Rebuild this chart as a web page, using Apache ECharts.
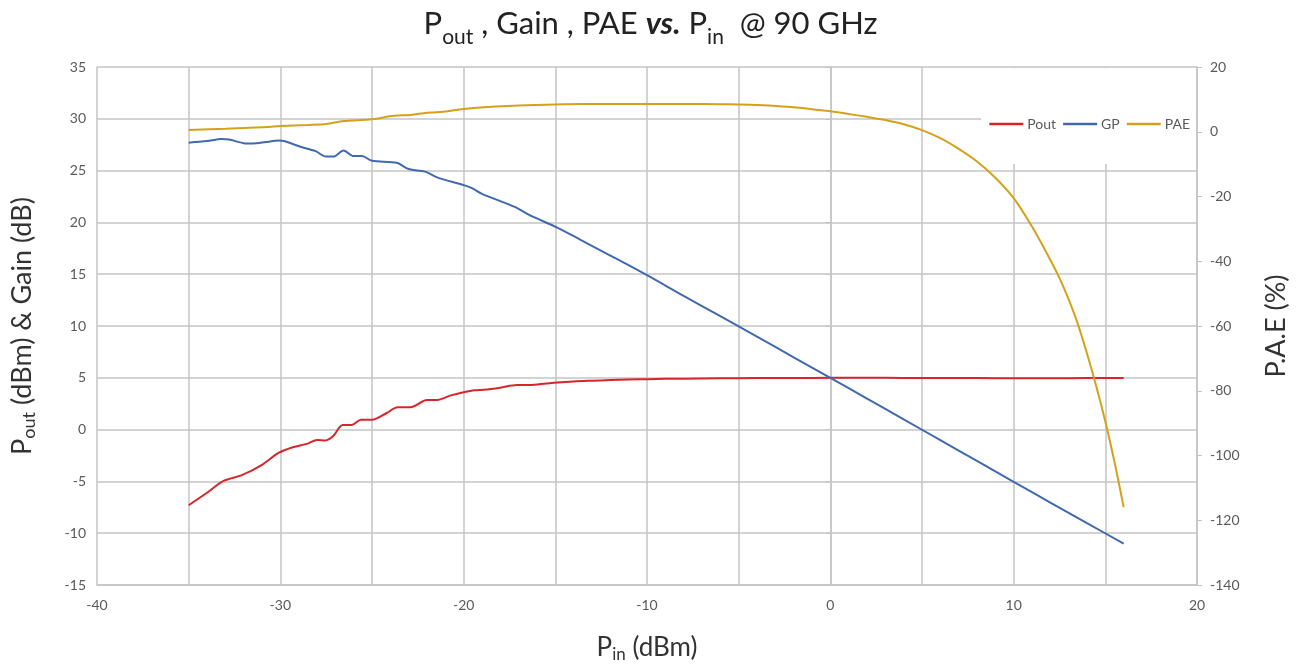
<!DOCTYPE html>
<html>
<head>
<meta charset="utf-8">
<script src="https://cdn.jsdelivr.net/npm/echarts@6/dist/echarts.min.js"></script>
<style>html,body{margin:0;padding:0;background:#fff;}#c{width:1301px;height:664px;}</style>
</head>
<body>
<div id="c"></div>
<script>
// Series data: [Pin (dBm), value]
var poutData = [[-35,-7.3],[-34,-6.1],[-33.1,-4.95],[-32.1,-4.4],[-31,-3.4],[-30.1,-2.25],[-29.4,-1.75],[-28.5,-1.35],[-28,-1.0],[-27.55,-1.05],[-27.1,-0.6],[-26.6,0.45],[-26.1,0.45],[-25.6,0.95],[-25,0.95],[-24.2,1.6],[-23.6,2.15],[-22.9,2.15],[-22,2.85],[-21.5,2.85],[-20.7,3.3],[-20,3.6],[-19.4,3.8],[-18.9,3.85],[-18,4.05],[-17.1,4.3],[-16.4,4.3],[-15.5,4.45],[-14.9,4.55],[-14,4.65],[-13,4.72],[-12,4.78],[-11,4.83],[-10,4.87],[-8,4.92],[-6,4.95],[-4,4.97],[-2,4.98],[0,5.0],[2,5.0],[4,4.99],[6,4.98],[8,4.97],[10,4.96],[12,4.96],[14,4.97],[16,4.98]];
var gpData = [[-35,27.7],[-34,27.85],[-33.2,28.05],[-32.8,28.0],[-32,27.65],[-31.5,27.62],[-30.8,27.75],[-30.1,27.9],[-29.8,27.85],[-28.9,27.3],[-28.1,26.9],[-27.5,26.35],[-27.1,26.35],[-26.55,26.95],[-26,26.4],[-25.55,26.4],[-25,25.95],[-23.65,25.75],[-23,25.15],[-22.1,24.9],[-21.45,24.35],[-20,23.6],[-19.55,23.3],[-19,22.75],[-18,22.05],[-17.1,21.4],[-16.4,20.7],[-14.9,19.5],[-13.6,18.3],[-12,16.8],[-10,14.9],[-8,12.9],[-6,10.95],[-4,8.97],[-2,6.98],[0,5.0],[2,3.0],[4,0.99],[6,-1.02],[8,-3.03],[10,-5.04],[12,-7.04],[14,-9.03],[16,-11.0]];
var paeData = [[-35,0.55],[-33,0.9],[-31,1.4],[-30,1.75],[-28.5,2.1],[-27.5,2.4],[-26.55,3.3],[-25,3.85],[-23.8,4.95],[-22.9,5.2],[-22,5.9],[-21.45,6.0],[-20,7.0],[-19.1,7.5],[-17.3,8.05],[-15.5,8.35],[-13.6,8.55],[-12,8.6],[-10,8.6],[-8,8.58],[-6,8.5],[-5,8.45],[-4,8.3],[-2,7.6],[0,6.3],[1,5.5],[2,4.6],[3,3.6],[4,2.3],[5,0.5],[6,-2.0],[7,-5.3],[8,-9.2],[9,-14.2],[10,-20.5],[11,-29.3],[12,-39.6],[12.5,-45.2],[13,-51.8],[13.5,-59.4],[14,-68.5],[14.5,-78.5],[15,-89.5],[15.5,-102],[16,-116]];
var seriesNames = ['Pout','GP','PAE'];

var FONT = 'Lato';
var gridColor = '#c4c4c4';
var labelColor = '#595959';
var nameColor = '#333';

var chart = echarts.init(document.getElementById('c'), null, {renderer:'canvas'});
chart.setOption({
  animation: false,
  backgroundColor: '#fff',
  textStyle: { fontFamily: FONT },
  title: {
    left: 'center', top: 3,
    text: '{p|P}{sub|out}{p| , Gain , PAE }{b|vs.}{p| P}{sub|in}{p|  @ 90 GHz}',
    textStyle: {
      fontWeight: 'normal',
      rich: {
        p: { fontFamily: FONT, fontSize: 31, fontWeight: 'normal', color: '#222', lineHeight: 40, verticalAlign: 'top' },
        b: { fontFamily: FONT, fontSize: 31, color: '#222', fontWeight: 'bold', fontStyle: 'italic', lineHeight: 40, verticalAlign: 'top' },
        sub: { fontFamily: FONT, fontSize: 21, fontWeight: 'normal', color: '#222', lineHeight: 40, verticalAlign: 'bottom', padding: [18,0,0,0] }
      }
    }
  },
  grid: { left: 97, right: 104, top: 67, bottom: 79, outerBoundsMode: 'none', containLabel: false },
  graphic: [{
    type: 'rect', z: 1,
    shape: { x: 981, y: 68, width: 215, height: 96 },
    style: { fill: '#fff' }
  }],
  legend: {
    data: seriesNames,
    right: 106, top: 112,
    icon: 'rect',
    itemWidth: 34, itemHeight: 2.5, itemGap: 7,
    textStyle: { fontFamily: FONT, fontSize: 14, color: labelColor, padding: [0,0,0,-1] },
    z: 5
  },
  xAxis: {
    type: 'value', min: -40, max: 20, interval: 5,
    name: '{p|P}{sub|in}{p| (dBm)}', nameLocation: 'middle', nameGap: 46,
    nameTextStyle: { rich: {
      p: { fontFamily: FONT, fontSize: 26, color: nameColor, lineHeight: 34 },
      sub: { fontFamily: FONT, fontSize: 17, color: nameColor, lineHeight: 34, padding: [14,0,0,0] }
    }},
    axisLine: { onZero: false, lineStyle: { color: gridColor, width: 1.5 } },
    axisTick: { show: false },
    axisLabel: { color: labelColor, fontSize: 14, margin: 13,
      formatter: function (v) { return v % 10 === 0 ? String(v) : ''; } },
    splitLine: { show: true, lineStyle: { color: gridColor, width: 1.5 } }
  },
  yAxis: [{
    type: 'value', min: -15, max: 35, interval: 5,
    name: '{p|P}{sub|out}{p| (dBm) & Gain (dB)}', nameLocation: 'middle', nameGap: 58, nameRotate: 90,
    nameTextStyle: { rich: {
      p: { fontFamily: FONT, fontSize: 27, color: nameColor, lineHeight: 34 },
      sub: { fontFamily: FONT, fontSize: 18, color: nameColor, lineHeight: 34, padding: [14,0,0,0] }
    }},
    axisLine: { show: true, lineStyle: { color: gridColor, width: 1.5 } },
    axisTick: { show: true, length: 5, lineStyle: { color: gridColor } },
    axisLabel: { color: labelColor, fontSize: 14, margin: 11 },
    splitLine: { show: true, lineStyle: { color: gridColor, width: 1.5 } }
  }, {
    type: 'value', min: -140, max: 20, interval: 20, position: 'right',
    name: 'P.A.E (%)', nameLocation: 'middle', nameGap: 66, nameRotate: 90,
    nameTextStyle: { fontFamily: FONT, fontSize: 27, color: nameColor },
    axisLine: { show: true, lineStyle: { color: gridColor, width: 1.5 } },
    axisTick: { show: true, length: 5, lineStyle: { color: gridColor } },
    axisLabel: { color: labelColor, fontSize: 14, margin: 13 },
    splitLine: { show: false }
  }],
  series: [{
    name: seriesNames[0], type: 'line', yAxisIndex: 0, data: poutData,
    symbol: 'none', smooth: 0.3, z: 3,
    lineStyle: { color: '#d7262b', width: 2 }, itemStyle: { color: '#d7262b' }
  }, {
    name: seriesNames[1], type: 'line', yAxisIndex: 0, data: gpData,
    symbol: 'none', smooth: 0.3, z: 3,
    lineStyle: { color: '#4169ad', width: 2 }, itemStyle: { color: '#4169ad' }
  }, {
    name: seriesNames[2], type: 'line', yAxisIndex: 1, data: paeData,
    symbol: 'none', smooth: 0.3, z: 3,
    lineStyle: { color: '#d4a21a', width: 2 }, itemStyle: { color: '#d4a21a' }
  }]
});
</script>
</body>
</html>
